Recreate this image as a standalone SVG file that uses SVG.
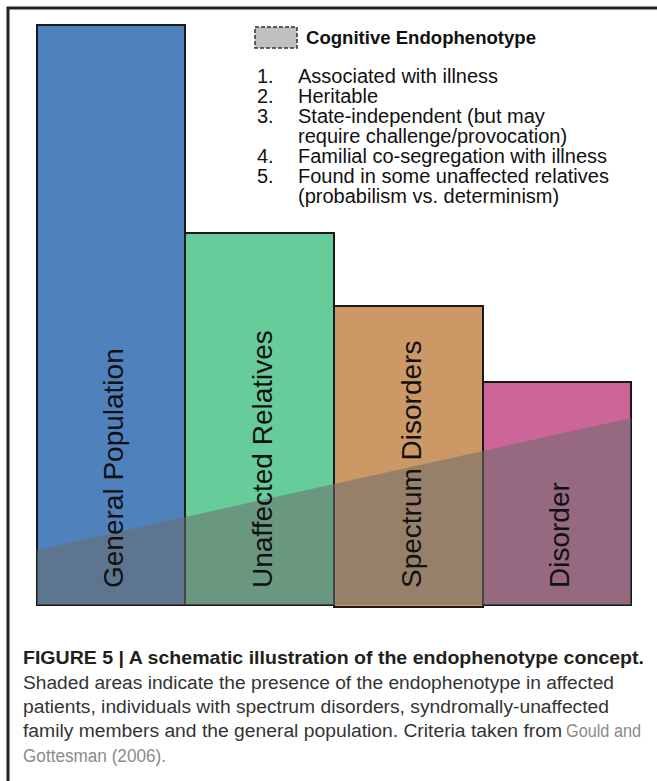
<svg xmlns="http://www.w3.org/2000/svg" width="657" height="781" viewBox="0 0 657 781">
<style>
.bar{stroke:#1a1a1a;stroke-width:2}
.lbl{font-family:"Liberation Sans",Arial,sans-serif;font-size:28px;fill:#111}
.leg{font-family:"Liberation Sans",Arial,sans-serif;font-size:20px;fill:#111}
.legt{font-family:"Liberation Sans",Arial,sans-serif;font-size:18.5px;font-weight:bold;fill:#111}
.cap{font-family:"Liberation Sans",Arial,sans-serif;font-size:18px;fill:#333}
.capb{font-family:"Liberation Sans",Arial,sans-serif;font-size:18px;font-weight:bold;fill:#231f20}
.cite{fill:#8a8a8a}
</style>
<rect width="657" height="781" fill="#ffffff"/>
<path d="M8,781 V8 H657" fill="none" stroke="#222" stroke-width="3"/>
<g id="general-population">
<rect class="bar" x="37" y="25" width="148" height="580" fill="#4f81bd"/>
</g>
<g id="unaffected-relatives">
<rect class="bar" x="185" y="233" width="149" height="372" fill="#66cc99"/>
</g>
<g id="spectrum-disorders">
<rect class="bar" x="334" y="306" width="149" height="301" fill="#cc9966"/>
</g>
<g id="disorder">
<rect class="bar" x="483" y="382" width="148" height="223" fill="#cc6699"/>
</g>
<g id="endophenotype-shading">
<polygon points="37,550 631,418 631,605 37,605" fill="#6b6b6b" fill-opacity="0.55"/>
</g>
<g id="bar-labels">
<text class="lbl" transform="translate(123,588) rotate(-90)">General Population</text>
<text class="lbl" transform="translate(271.5,588) rotate(-90)">Unaffected Relatives</text>
<text class="lbl" transform="translate(420.5,588) rotate(-90)">Spectrum Disorders</text>
<text class="lbl" transform="translate(569,588) rotate(-90)">Disorder</text>
</g>
<g id="legend">
<rect x="255" y="27" width="42" height="21" fill="#c0c0c0" stroke="#333" stroke-width="1.5" stroke-dasharray="4,2"/>
<text class="legt" x="306" y="44" textLength="230" lengthAdjust="spacingAndGlyphs">Cognitive Endophenotype</text>
<text class="leg" x="257" y="83">1.</text><text class="leg" x="298" y="83">Associated with illness</text>
<text class="leg" x="257" y="103">2.</text><text class="leg" x="298" y="103">Heritable</text>
<text class="leg" x="257" y="123">3.</text><text class="leg" x="298" y="123">State-independent (but may</text>
<text class="leg" x="298" y="143">require challenge/provocation)</text>
<text class="leg" x="257" y="163">4.</text><text class="leg" x="298" y="163">Familial co-segregation with illness</text>
<text class="leg" x="257" y="183">5.</text><text class="leg" x="298" y="183">Found in some unaffected relatives</text>
<text class="leg" x="298" y="203">(probabilism vs. determinism)</text>
</g>
<g id="caption">
<text class="capb" x="23" y="664" textLength="621" lengthAdjust="spacingAndGlyphs">FIGURE 5 | A schematic illustration of the endophenotype concept.</text>
<text class="cap" x="23" y="689" textLength="591" lengthAdjust="spacingAndGlyphs">Shaded areas indicate the presence of the endophenotype in affected</text>
<text class="cap" x="23" y="713" textLength="586" lengthAdjust="spacingAndGlyphs">patients, individuals with spectrum disorders, syndromally-unaffected</text>
<text class="cap" x="23" y="737" textLength="539" lengthAdjust="spacingAndGlyphs">family members and the general population. Criteria taken from</text>
<text class="cap cite" x="566" y="737" textLength="75" lengthAdjust="spacingAndGlyphs">Gould and</text>
<text class="cap cite" x="23" y="762" textLength="143" lengthAdjust="spacingAndGlyphs">Gottesman (2006).</text>
</g>
</svg>
